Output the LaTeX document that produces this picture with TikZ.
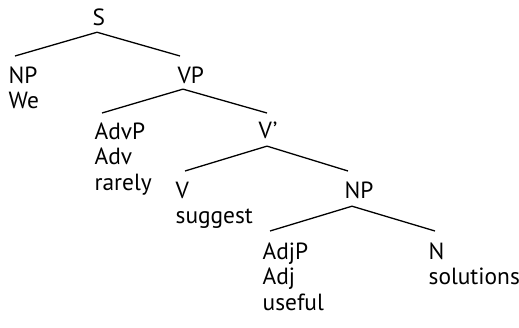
\documentclass[tikz,border=0pt]{standalone}
\usepackage{fontspec}
\setmainfont{PT Sans}
\usepackage{tikz}

\tikzset{cat/.style={anchor=north west, inner sep=0pt, align=left, font=\fontsize{11.7}{12.8}\selectfont}}

\begin{document}
\begin{tikzpicture}[x=0.5pt,y=-0.5pt,line width=0.65pt]
\useasboundingbox (0,0) rectangle (519,327);
\node[cat] (S) at (92,8) {S};
\node[cat] (NPa) at (8,66) {NP\\We};
\node[cat] (VP) at (177,66) {VP};
\node[cat] (AdvP) at (94,122) {AdvP\\Adv\\rarely};
\node[cat] (Vbar) at (258,121) {V’};
\node[cat] (V) at (175,181) {V\\suggest};
\node[cat] (NPb) at (344,181) {NP};
\node[cat] (AdjP) at (262,242) {AdjP\\Adj\\useful};
\node[cat] (N) at (428,242) {N\\solutions};

\draw ([shift={(5,6)}]S.south west) -- ([shift={(7,-10)}]NPa.north west);
\draw ([shift={(5,6)}]S.south west) -- ([shift={(3,-10)}]VP.north west);
\draw ([shift={(6,5)}]VP.south west) -- ([shift={(8,-9)}]AdvP.north west);
\draw ([shift={(6,5)}]VP.south west) -- ([shift={(9,-8)}]Vbar.north west);
\draw ([shift={(9,7)}]Vbar.south west) -- ([shift={(10,-10)}]V.north west);
\draw ([shift={(9,7)}]Vbar.south west) -- ([shift={(4,-10)}]NPb.north west);
\draw ([shift={(8,7)}]NPb.south west) -- ([shift={(8,-11)}]AdjP.north west);
\draw ([shift={(8,7)}]NPb.south west) -- ([shift={(7,-11)}]N.north west);
\end{tikzpicture}
\end{document}
